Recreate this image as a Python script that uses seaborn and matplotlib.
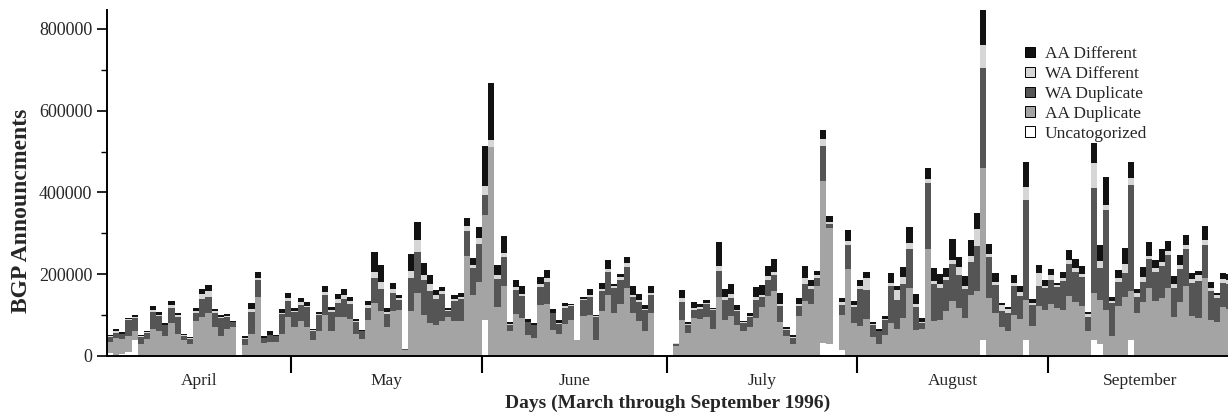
import numpy as np
import pandas as pd
import matplotlib
matplotlib.use("Agg")
import matplotlib.pyplot as plt
import seaborn as sns

# Daily BGP announcements (thousands), day 0 = April 1 1996 ... day 182 = Sept 30
uncat = [8, 0, 5, 10, 40, 0, 0, 0, 0, 0,
         0, 0, 0, 0, 0, 0, 0, 0, 0, 0,
         0, 0, 0, 0, 0, 0, 0, 0, 0, 0,
         0, 0, 0, 0, 0, 0, 0, 0, 0, 0,
         0, 0, 0, 0, 0, 0, 0, 0, 0, 0,
         0, 0, 0, 0, 0, 0, 0, 0, 0, 0,
         0, 88, 0, 0, 0, 0, 0, 0, 0, 0,
         0, 0, 0, 0, 0, 0, 0, 0, 0, 0,
         0, 0, 0, 0, 0, 0, 0, 0, 0, 0,
         0, 0, 0, 0, 0, 0, 0, 0, 0, 0,
         0, 0, 0, 0, 0, 0, 0, 0, 0, 0,
         0, 0, 0, 0, 0, 0, 33, 30, 0, 15,
         0, 0, 0, 0, 0, 0, 0, 0, 0, 0,
         0, 0, 0, 0, 0, 0, 0, 0, 0, 0,
         0, 0, 40, 0, 0, 0, 0, 0, 0, 40,
         0, 0, 0, 0, 0, 0, 0, 0, 0, 0,
         40, 30, 0, 0, 0, 0, 40, 0, 0, 0,
         0, 0, 0, 0, 0, 0, 0, 0, 0, 0,
         0, 0, 0]

aa_dup = [27, 45, 36, 40, 20, 30, 42, 65, 60, 50,
          80, 55, 38, 30, 85, 95, 105, 72, 50, 65,
          70, 0, 28, 55, 145, 32, 35, 35, 55, 95,
          70, 85, 70, 40, 60, 100, 62, 95, 95, 90,
          55, 42, 88, 130, 110, 70, 110, 112, 14, 110,
          155, 100, 80, 75, 85, 95, 85, 85, 245, 150,
          180, 257, 510, 119, 171, 60, 102, 92, 52, 45,
          124, 127, 64, 53, 78, 87, 38, 97, 100, 40,
          109, 150, 106, 127, 167, 105, 86, 62, 105, 0,
          0, 0, 25, 88, 57, 93, 91, 96, 67, 144,
          87, 98, 75, 61, 71, 93, 119, 147, 158, 83,
          48, 29, 98, 135, 128, 171, 395, 282, 0, 85,
          212, 80, 74, 91, 46, 30, 52, 81, 66, 92,
          167, 64, 66, 262, 86, 87, 111, 135, 118, 93,
          149, 160, 420, 141, 104, 70, 61, 100, 91, 97,
          74, 122, 112, 127, 118, 113, 146, 131, 122, 60,
          115, 106, 112, 50, 122, 144, 119, 105, 132, 166,
          135, 141, 166, 96, 132, 171, 99, 94, 191, 89,
          83, 119, 115]

wa_dup = [12, 12, 12, 38, 32, 17, 14, 42, 38, 25,
          38, 40, 12, 12, 20, 45, 40, 34, 42, 30,
          12, 0, 14, 52, 40, 12, 16, 13, 47, 40,
          38, 40, 50, 22, 40, 48, 45, 35, 45, 38,
          28, 18, 30, 60, 55, 32, 45, 25, 2, 80,
          100, 85, 80, 65, 67, 15, 50, 55, 60, 65,
          95, 49, 0, 70, 70, 15, 60, 55, 30, 30,
          45, 55, 40, 25, 40, 35, 0, 40, 45, 55,
          50, 55, 60, 60, 50, 40, 45, 50, 45, 0,
          0, 0, 5, 45, 20, 20, 25, 30, 45, 65,
          50, 45, 35, 20, 25, 45, 25, 40, 40, 40,
          15, 15, 25, 40, 35, 20, 85, 10, 0, 25,
          60, 40, 90, 70, 30, 30, 35, 90, 70, 85,
          95, 55, 15, 160, 90, 80, 75, 90, 80, 70,
          80, 110, 244, 100, 70, 40, 45, 70, 55, 244,
          50, 50, 55, 60, 50, 70, 80, 75, 70, 35,
          255, 80, 245, 80, 60, 60, 260, 40, 50, 70,
          70, 80, 80, 70, 80, 90, 80, 90, 80, 70,
          60, 60, 60]

wa_diff = [2, 3, 2, 2, 4, 1, 2, 6, 3, 2,
           7, 5, 1, 1, 5, 12, 15, 4, 4, 3,
           2, 0, 2, 7, 6, 1, 1, 1, 4, 6,
           2, 6, 3, 1, 3, 8, 5, 9, 10, 6,
           2, 1, 6, 15, 17, 5, 9, 4, 0, 19,
           28, 12, 15, 10, 7, 3, 5, 5, 12, 8,
           14, 21, 19, 8, 12, 3, 6, 5, 2, 2,
           6, 8, 2, 2, 4, 3, 1, 3, 5, 2,
           5, 8, 5, 5, 10, 5, 5, 4, 5, 0,
           0, 0, 1, 8, 2, 5, 3, 3, 2, 10,
           8, 8, 3, 2, 3, 6, 5, 8, 8, 5,
           2, 2, 5, 15, 8, 8, 18, 5, 0, 8,
           8, 5, 8, 30, 3, 2, 3, 8, 25, 15,
           15, 8, 3, 12, 8, 8, 8, 10, 20, 8,
           15, 40, 56, 8, 8, 15, 10, 8, 10, 33,
           5, 30, 5, 10, 5, 8, 8, 10, 8, 8,
           61, 16, 12, 5, 8, 20, 16, 8, 10, 8,
           10, 10, 10, 10, 10, 10, 10, 15, 12, 8,
           5, 10, 10]

aa_diff = [2, 5, 4, 4, 4, 3, 4, 9, 6, 3,
           10, 5, 3, 3, 8, 13, 13, 6, 4, 4,
           2, 0, 4, 15, 15, 4, 8, 2, 10, 12,
           7, 10, 10, 2, 5, 15, 8, 12, 15, 10,
           5, 3, 11, 50, 40, 10, 15, 8, 1, 40,
           45, 30, 23, 11, 10, 4, 9, 8, 20, 16,
           27, 98, 138, 25, 40, 6, 18, 18, 6, 3,
           17, 20, 8, 8, 8, 3, 0, 5, 15, 3,
           15, 22, 5, 8, 15, 20, 15, 8, 15, 0,
           0, 0, 2, 20, 5, 15, 8, 8, 3, 60,
           18, 25, 12, 3, 5, 25, 25, 25, 30, 25,
           5, 5, 15, 30, 15, 10, 22, 15, 0, 10,
           28, 10, 15, 15, 5, 3, 8, 25, 10, 25,
           38, 25, 8, 25, 30, 25, 20, 50, 25, 25,
           40, 40, 86, 25, 20, 5, 3, 20, 15, 61,
           10, 20, 15, 15, 5, 15, 25, 20, 20, 5,
           50, 40, 69, 10, 20, 40, 40, 10, 25, 35,
           20, 30, 25, 20, 25, 25, 15, 10, 35, 15,
           5, 15, 15]

months = ["April", "May", "June", "July", "August", "September"]
month_bounds = [29.5, 60.5, 90.5, 121.5, 152.5]
month_mids = [14.5, 45, 75.5, 106, 137, 167.5]

# legend order (top of stack first)
order = ["AA Different", "WA Different", "WA Duplicate", "AA Duplicate", "Uncatogorized"]
colors = {"AA Different": "#121212", "WA Different": "#d6d6d6",
          "WA Duplicate": "#555555", "AA Duplicate": "#a4a4a4",
          "Uncatogorized": "#ffffff"}

series = {"AA Different": aa_diff, "WA Different": wa_diff,
          "WA Duplicate": wa_dup, "AA Duplicate": aa_dup,
          "Uncatogorized": uncat}
days = np.arange(len(aa_dup))
df = pd.concat([pd.DataFrame({"day": days, "category": k,
                              "count": np.array(v) * 1000})
                for k, v in series.items()], ignore_index=True)

sns.set_style("ticks")
plt.rcParams["font.family"] = ["Liberation Serif", "DejaVu Serif"]

fig = plt.figure(figsize=(12.28, 4.16), dpi=100)
ax = fig.add_axes([107 / 1228, 60 / 416, 1121 / 1228, 346 / 416])

# histplot stacks the last hue level at the bottom
sns.histplot(data=df, x="day", weights="count", hue="category", hue_order=order,
             multiple="stack", discrete=True, shrink=1, palette=colors,
             alpha=1, linewidth=0, ax=ax)

ax.set_xlim(-0.5, 181.8)
ax.set_ylim(0, 846000)

ax.set_xticks(month_bounds)
ax.set_xticklabels([])
ax.set_xticks(month_mids, minor=True)
ax.set_xticklabels(months, minor=True)
ax.tick_params(axis="x", which="major", length=12, width=1.5, direction="out", color="black")
ax.tick_params(axis="x", which="minor", length=0, pad=12, labelsize=12.5)

ax.set_yticks(range(0, 800001, 200000))
ax.set_yticklabels([str(v) for v in range(0, 800001, 200000)])
ax.set_yticks(range(100000, 800001, 200000), minor=True)
ax.tick_params(axis="y", which="major", length=7, width=1.2, labelsize=13, color="black")
ax.tick_params(axis="y", which="minor", length=4, width=1.0, color="black")

sns.despine(ax=ax)
for s in ["left", "bottom"]:
    ax.spines[s].set_color("black")
    ax.spines[s].set_linewidth(1.4)

ax.set_xlabel("Days (March through September 1996)", fontsize=14, fontweight="bold", labelpad=4)
ax.set_ylabel("BGP Announcments", fontsize=17, fontweight="bold")
ax.yaxis.set_label_coords(-0.067, 0.42)

sns.move_legend(ax, "upper left", bbox_to_anchor=(0.805, 0.94), title=None,
                frameon=False, fontsize=12.5, handlelength=0.55, handleheight=0.55,
                handletextpad=0.6, labelspacing=0.22)
for h in ax.get_legend().legend_handles:
    h.set_edgecolor("black")
    h.set_linewidth(0.7)

fig.savefig("out.png", dpi=100)
